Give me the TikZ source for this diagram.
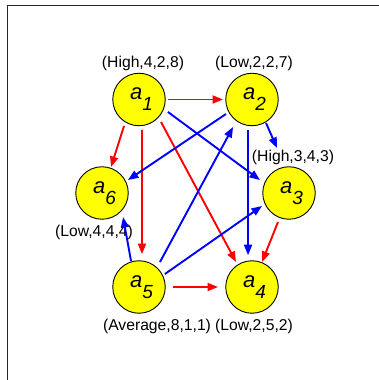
\documentclass[tikz,border=0pt]{standalone}
\usepackage{fontspec}
\setmainfont{Liberation Sans}
\usetikzlibrary{arrows.meta,calc}
\definecolor{nodeyellow}{RGB}{255,255,0}
\definecolor{edgered}{RGB}{255,0,0}
\definecolor{edgeblue}{RGB}{0,0,255}
\definecolor{framegray}{RGB}{40,40,40}
\newcommand{\anode}[1]{\hspace{5pt}{\fontsize{22}{22}\selectfont\itshape a\raisebox{-11pt}{\fontsize{19}{19}\selectfont #1}}}
\tikzset{
  vertex/.style={circle, draw=black, line width=0.9pt, fill=nodeyellow, inner sep=0pt, minimum size=52.5pt},
  attr/.style={inner sep=0pt, font=\fontsize{15.7}{16}\selectfont},
  redarr/.style={draw=edgered, line width=1.9pt, -{Triangle[length=10.5pt,width=8pt]}},
  bluearr/.style={draw=edgeblue, line width=1.9pt, -{Triangle[length=10.5pt,width=8pt]}},
  framestyle/.style={draw=framegray, line width=1.3pt}
}
\begin{document}
\begin{tikzpicture}[x=1pt,y=1pt]
\useasboundingbox (0,0) rectangle (379,380);
\draw[framestyle] (7.5,0) -- (7.5,374.5) -- (379,374.5);
% vertices
\node[vertex] (a1) at (139,280.5) {\anode{1}};
\node[vertex] (a2) at (252,280.5) {\anode{2}};
\node[vertex] (a3) at (289,187) {\anode{3}};
\node[vertex] (a6) at (102,187) {\anode{6}};
\node[vertex] (a5) at (139,93) {\anode{5}};
\node[vertex] (a4) at (252,93) {\anode{4}};
% attribute labels
\node[attr] (l1) at (143,317) {(High,4,2,8)};
\node[attr] (l2) at (254,317) {(Low,2,2,7)};
\node[attr] (l3) at (293,223) {(High,3,4,3)};
\node[attr] (l6) at (94,148) {(Low,4,4,4)};
\node[attr] (l5) at (157,54) {(Average,8,1,1)};
\node[attr] (l4) at (254,54) {(Low,2,5,2)};
\coordinate (e23) at (277,232);
% red edges
\draw[redarr] ($(a1)+(0:29pt)$) -- ($(a2)+(180:29pt)$);
\draw[redarr] ($(a1)+(240.5:30.4pt)$) -- ($(a6)+(70.9:27.5pt)$);
\draw[redarr] ($(a1)+(275.6:30.6pt)$) -- ($(a5)+(84.8:33pt)$);
\draw[redarr] ($(a1)+(314.4:31.5pt)$) -- ($(a4)+(122.6:29.7pt)$);
\draw[redarr] ($(a3)+(249.2:31pt)$) -- ($(a4)+(68.2:27pt)$);
\draw[redarr] ($(a5)+(0:34pt)$) -- ($(a4)+(180:34pt)$);
% blue edges
\draw[bluearr] ($(a1)+(336.7:31.5pt)$) -- ($(a3)+(155.9:31.8pt)$);
\draw[bluearr] ($(a2)+(209.1:29.8pt)$) -- ($(a6)+(26.6:29pt)$);
\draw[bluearr] ($(a2)+(300.8:27.4pt)$) -- (e23);
\draw[bluearr] ($(a2)+(262.5:30.8pt)$) -- ($(a4)+(97.1:32pt)$);
\draw[bluearr] ($(a5)+(50:32.6pt)$) -- ($(a2)+(235.4:33.4pt)$);
\draw[bluearr] ($(a5)+(26.6:29pt)$) -- ($(a3)+(205.7:30pt)$);
\draw[bluearr] ($(a5)+(107.1:27pt)$) -- ($(a6)+(311.2:32pt)$);
\end{tikzpicture}
\end{document}
